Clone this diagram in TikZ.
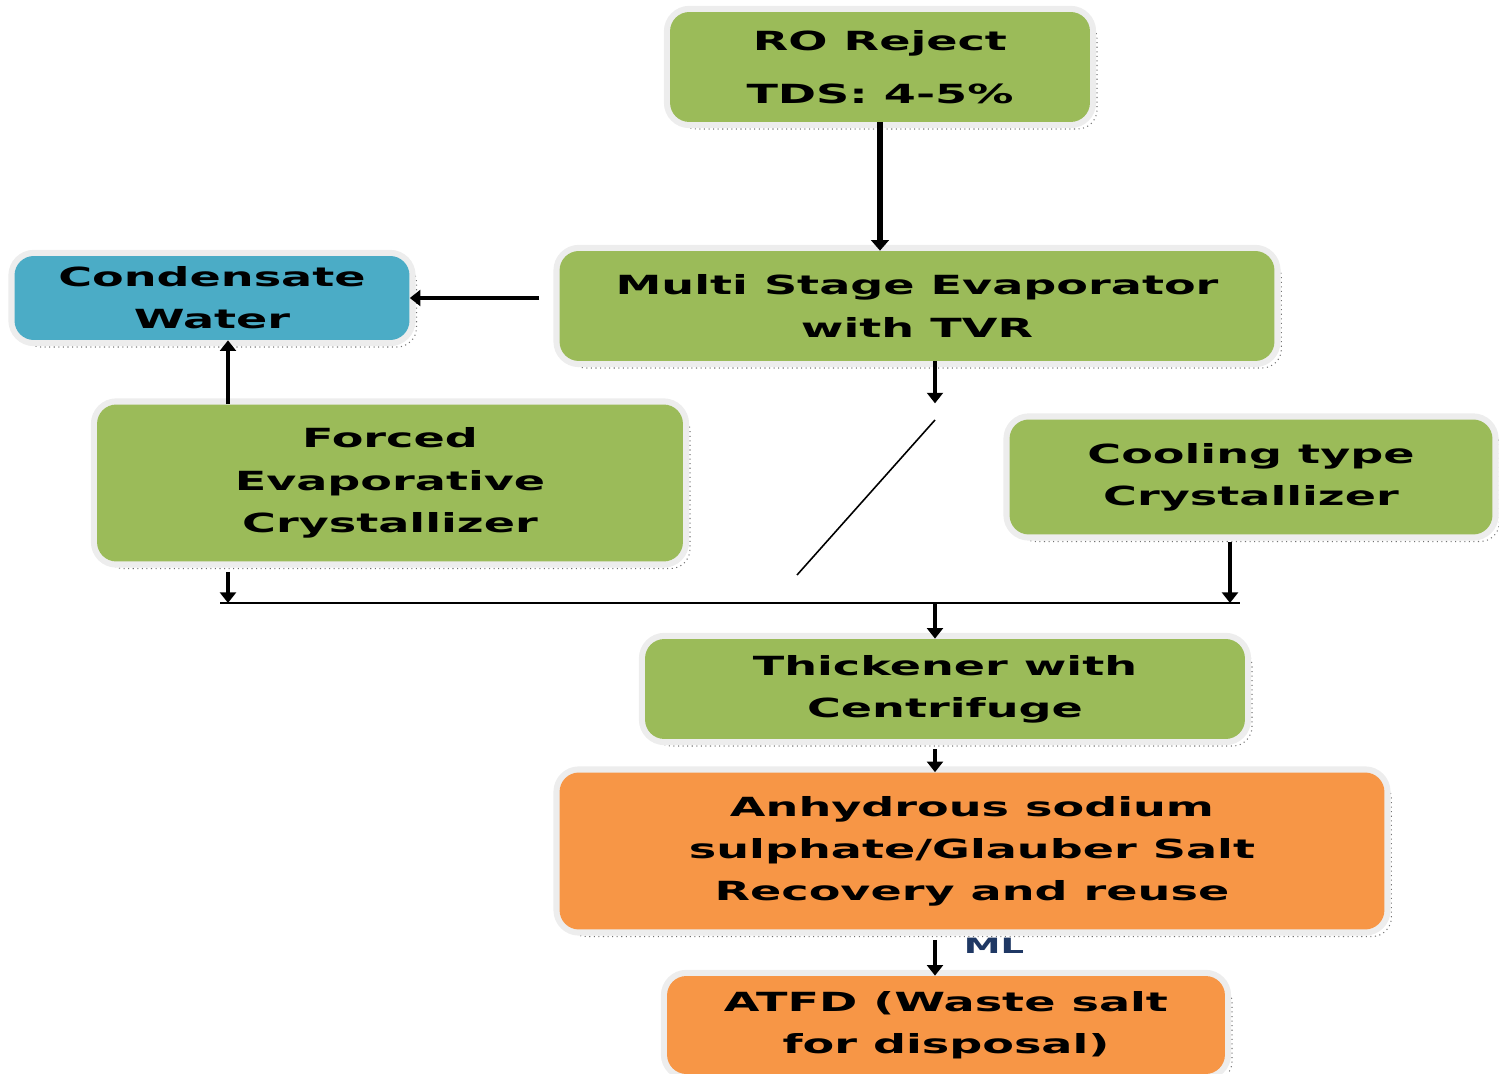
\documentclass[tikz,border=0pt]{standalone}
\usepackage{fontspec}
\usepackage{tikz}
\usetikzlibrary{arrows.meta}
\newfontfamily\flowfont[FakeStretch=1.75]{DejaVu Sans}
\definecolor{stagegreen}{HTML}{9BBB59}
\definecolor{stageblue}{HTML}{4BACC6}
\definecolor{stageorange}{HTML}{F79646}
\definecolor{mlblue}{HTML}{1F3864}

\begin{document}
\begin{tikzpicture}[x=0.02cm,y=-0.02cm,font=\flowfont\bfseries\fontsize{15}{24}\selectfont]
                \tikzstyle{stage}=[rectangle,rounded corners=11pt,align=center,inner sep=2pt,
                        preaction={draw=black!55,dotted,line width=0.6pt,transform canvas={shift={(4pt,-4pt)}}},
                        preaction={draw=black!7,line width=7pt},fill=stagegreen]
                \tikzstyle{arr}=[-{Triangle[width=9pt,length=6pt]},line width=2.2pt]
                \useasboundingbox (0,0) rectangle (1499,1074);

                \node[stage,minimum width=8.4cm,minimum height=2.2cm] (ro) at (880,67) {RO Reject\\[6pt]TDS: 4-5\%};
                \node[stage,minimum width=14.3cm,minimum height=2.2cm] (mse) at (917,306) {Multi Stage Evaporator\\with TVR};
                \node[stage,fill=stageblue,minimum width=7.9cm,minimum height=1.68cm] (cw) at (212,298) {Condensate\\Water};
                \node[stage,minimum width=11.72cm,minimum height=3.14cm] (fec) at (390,483) {Forced\\Evaporative\\Crystallizer};
                \node[stage,minimum width=9.66cm,minimum height=2.3cm] (cool) at (1251,477) {Cooling type\\Crystallizer};
                \node[stage,minimum width=12cm,minimum height=2cm] (thk) at (945,689) {Thickener with\\Centrifuge};
                \node[stage,fill=stageorange,minimum width=16.5cm,minimum height=3.14cm] (anh) at (972,851) {Anhydrous sodium\\sulphate/Glauber Salt\\Recovery and reuse};
                \node[stage,fill=stageorange,minimum width=11.16cm,minimum height=1.96cm] (atfd) at (946,1025) {ATFD (Waste salt\\for disposal)};
                \node[text=mlblue,font=\flowfont\bfseries\fontsize{12}{14}\selectfont] (ml) at (994,946) {ML};

                \coordinate (jl) at (228,603);
                \coordinate (jm) at (935,603);
                \coordinate (jr) at (1230,603);
                \coordinate (da) at (935,420);
                \coordinate (db) at (797,575);

                \draw[arr,line width=3pt,-{Triangle[width=10pt,length=6pt]}] (ro.south) -- (ro.south |- mse.north);
                \draw[arr,line width=1.8pt] (mse.west |- cw.east) ++(-20,0) -- (cw.east);
                \draw[arr,line width=2.8pt] (fec.north -| jl) -- (cw.south -| jl);
                \draw[arr] (mse.south -| jm) -- ++(0,42);
                \draw[line width=0.9pt] (da) -- (db);
                \draw[arr] ([yshift=-0.2cm]fec.south -| jl) -- (jl);
                \draw[arr] ([yshift=-0.15cm]cool.south -| jr) -- (jr);
                \draw[line width=1.1pt] ([xshift=-0.16cm]jl) -- ([xshift=0.2cm]jr);
                \draw[arr] (jm) -- (thk.north -| jm);
                \draw[arr,line width=1.9pt] ([yshift=-0.2cm]thk.south -| jm) -- (anh.north -| jm);
                \draw[arr,line width=1.9pt] ([yshift=-0.2cm]anh.south -| jm) -- (atfd.north -| jm);
\end{tikzpicture}
\end{document}
